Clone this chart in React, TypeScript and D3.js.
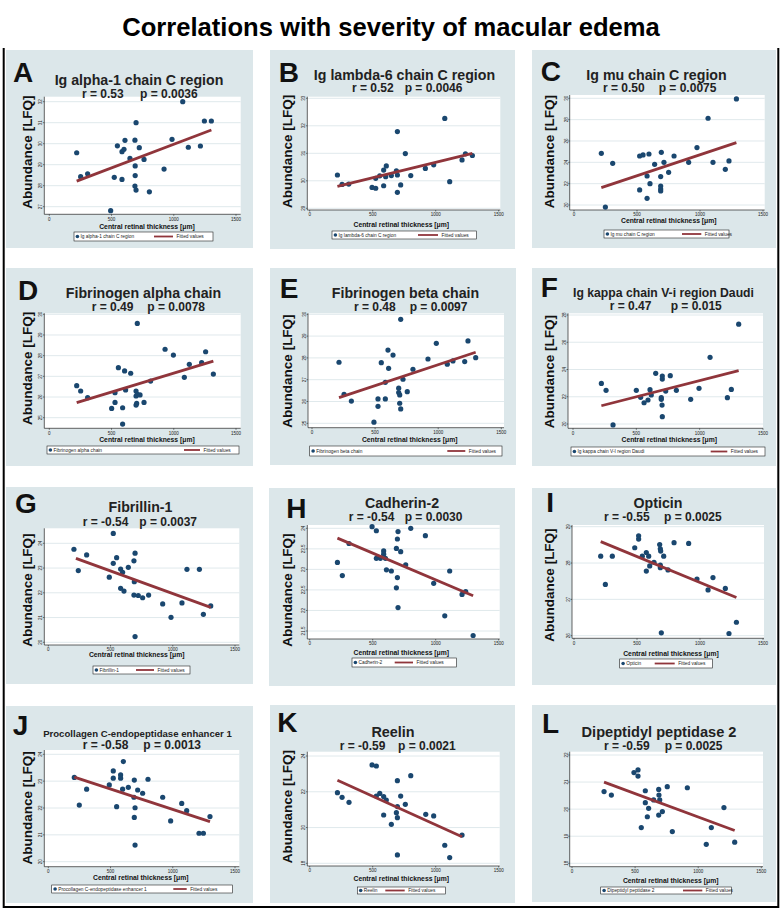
import React from "react";
import * as d3 from "d3";

// central retinal thickness [µm] vs abundance [LFQ], read per panel
const igAlpha1 = [[220, 29.57], [252, 28.43], [308, 28.57], [493, 26.81], [522, 28.4], [547, 29.9], [584, 29.62], [600, 29.73], [584, 28.3], [608, 30.16], [648, 29.3], [688, 30.17], [697, 31.0], [723, 29.81], [690, 28.94], [690, 28.48], [688, 27.98], [697, 27.79], [761, 29.25], [804, 27.71], [922, 28.79], [986, 30.21], [1072, 32.0], [1117, 29.83], [1214, 29.89], [1246, 31.08], [1302, 31.08]];
const igLambda6 = [[220, 30.21], [257, 29.87], [310, 29.88], [495, 29.76], [524, 29.73], [524, 30.09], [556, 30.18], [587, 30.39], [587, 29.82], [603, 30.15], [608, 30.54], [648, 30.19], [688, 30.36], [696, 31.79], [696, 30.21], [696, 29.58], [722, 29.85], [759, 30.99], [802, 30.19], [918, 30.45], [984, 30.58], [1072, 32.27], [1111, 29.97], [1209, 30.76], [1236, 30.98], [1291, 30.92]];
const igMu = [[217, 24.84], [249, 19.81], [307, 23.91], [521, 24.59], [548, 24.69], [595, 24.78], [521, 21.41], [580, 20.63], [580, 22.72], [603, 22.0], [640, 23.81], [693, 24.94], [688, 22.66], [688, 21.78], [688, 21.5], [688, 21.31], [714, 24.0], [751, 23.06], [794, 24.59], [910, 24.0], [976, 25.38], [1064, 28.13], [1103, 24.0], [1201, 23.34], [1230, 24.13], [1289, 29.94]];
const fibAlpha = [[220, 26.55], [252, 26.29], [308, 25.97], [501, 25.45], [528, 25.74], [528, 26.21], [555, 27.42], [589, 25.48], [589, 24.69], [605, 27.26], [613, 26.34], [654, 27.15], [697, 26.29], [697, 26.05], [697, 25.61], [702, 25.69], [707, 29.56], [707, 26.13], [729, 26.1], [761, 25.74], [814, 26.77], [930, 28.31], [997, 28.03], [1085, 26.95], [1125, 27.58], [1224, 27.66], [1256, 28.19], [1318, 27.11]];
const fibBeta = [[214, 27.8], [254, 26.33], [312, 26.02], [491, 25.05], [523, 26.12], [523, 25.78], [549, 27.78], [581, 26.12], [581, 26.88], [602, 28.36], [607, 27.52], [642, 28.13], [687, 26.61], [687, 26.41], [695, 26.3], [695, 25.92], [703, 25.66], [703, 29.77], [721, 27.02], [755, 26.45], [800, 27.48], [919, 27.95], [985, 28.67], [1072, 27.71], [1117, 27.86], [1210, 27.83], [1236, 28.78], [1297, 28.01]];
const igKappa = [[224, 22.98], [261, 22.47], [316, 19.93], [500, 22.47], [534, 21.96], [561, 21.56], [592, 21.76], [608, 22.52], [618, 22.13], [653, 23.72], [697, 21.93], [697, 21.81], [703, 21.39], [705, 20.54], [705, 23.52], [705, 23.3], [732, 22.42], [768, 23.55], [816, 22.47], [929, 21.81], [995, 22.62], [1082, 24.89], [1219, 21.93], [1250, 22.54], [1308, 27.33]];
const fibrillin = [[206, 23.76], [241, 22.9], [308, 23.53], [490, 22.63], [522, 23.19], [522, 24.4], [549, 23.42], [581, 22.96], [581, 22.18], [597, 22.83], [608, 22.07], [643, 23.03], [688, 23.29], [697, 23.6], [691, 22.45], [688, 21.91], [697, 20.23], [723, 21.89], [758, 21.8], [806, 21.91], [919, 21.55], [986, 21.01], [1074, 21.59], [1114, 22.95], [1214, 22.95], [1246, 21.13], [1305, 21.47]];
const cadherin = [[220, 23.17], [259, 22.85], [312, 23.63], [495, 24.04], [529, 23.94], [529, 23.27], [561, 23.27], [587, 23.45], [587, 23.37], [601, 23.27], [609, 22.99], [648, 22.96], [688, 23.51], [696, 23.74], [701, 23.92], [696, 22.8], [688, 22.55], [701, 22.07], [722, 23.43], [762, 23.11], [802, 24.0], [918, 23.82], [984, 22.66], [1072, 21.87], [1111, 22.96], [1209, 22.39], [1238, 22.46], [1297, 21.39]];
const opticin = [[212, 28.19], [249, 27.41], [304, 28.19], [482, 28.42], [513, 28.75], [513, 28.66], [542, 28.19], [574, 28.29], [574, 27.78], [593, 28.19], [601, 27.92], [635, 28.02], [680, 28.51], [685, 28.39], [688, 28.33], [685, 27.94], [685, 27.87], [693, 26.08], [712, 28.19], [746, 27.81], [794, 28.56], [910, 28.54], [976, 27.56], [1064, 27.26], [1103, 27.6], [1201, 27.3], [1230, 26.06], [1289, 26.37]];
const pcolce = [[209, 23.14], [249, 22.11], [308, 22.7], [490, 22.86], [522, 23.38], [522, 23.11], [549, 22.05], [581, 23.23], [581, 23.11], [603, 23.73], [597, 22.7], [643, 22.77], [691, 23.04], [688, 22.4], [697, 22.01], [691, 21.65], [697, 20.62], [718, 22.67], [758, 22.55], [801, 23.07], [919, 22.4], [983, 21.52], [1072, 22.17], [1112, 21.9], [1211, 21.06], [1246, 21.06], [1299, 21.68]];
const reelin = [[220, 21.95], [257, 21.69], [312, 21.41], [495, 23.5], [529, 23.44], [529, 21.76], [556, 21.91], [587, 21.73], [587, 20.7], [608, 21.54], [648, 20.18], [688, 20.83], [696, 22.62], [696, 21.17], [696, 20.55], [696, 18.47], [722, 21.76], [759, 21.3], [802, 22.9], [921, 20.74], [984, 20.65], [1072, 19.01], [1111, 18.32], [1209, 19.58]];
const dpp2 = [[254, 20.65], [312, 20.52], [491, 21.35], [523, 21.45], [523, 21.22], [549, 19.32], [581, 20.68], [581, 20.24], [607, 20.03], [597, 19.72], [647, 20.34], [687, 20.73], [689, 20.52], [695, 20.34], [687, 19.78], [716, 19.91], [755, 20.83], [795, 19.17], [914, 20.79], [1064, 18.7], [1104, 19.32], [1204, 20.06], [1289, 18.78]];

// fitted values (start, end)
const fits = [
  [[220, 28.22], [1302, 30.65]],
  [[220, 29.8], [1291, 31.0]],
  [[217, 21.63], [1289, 25.84]],
  [[220, 25.73], [1318, 27.74]],
  [[214, 26.18], [1297, 28.26]],
  [[224, 21.34], [1308, 23.91]],
  [[222, 23.39], [1305, 21.41]],
  [[220, 23.76], [1297, 22.36]],
  [[212, 28.59], [1289, 27.05]],
  [[209, 23.15], [1299, 21.49]],
  [[220, 22.64], [1209, 19.49]],
  [[254, 21.0], [1289, 19.21]],
];

const letters = ["A", "B", "C", "D", "E", "F", "G", "H", "I", "J", "K", "L"];
const titles = ["Ig alpha-1 chain C region", "Ig lambda-6 chain C region", "Ig mu chain C region", "Fibrinogen alpha chain", "Fibrinogen beta chain", "Ig kappa chain V-i region Daudi", "Fibrillin-1", "Cadherin-2", "Opticin", "Procollagen C-endopeptidase enhancer 1", "Reelin", "Dipeptidyl peptidase 2"];
const legendLabels = ["Ig alpha-1 chain C region", "Ig lambda-6 chain C region", "Ig mu chain C region", "Fibrinogen alpha chain", "Fibrinogen beta chain", "Ig kappa chain V-I region Daudi", "Fibrillin-1", "Cadherin-2", "Opticin", "Procollagen C-endopeptidase enhancer 1", "Reelin", "Dipeptidyl peptidase 2"];
const rValues = ["0.53", "0.52", "0.50", "0.49", "0.48", "0.47", "-0.54", "-0.54", "-0.55", "-0.58", "-0.59", "-0.59"];
const pValues = ["0.0036", "0.0046", "0.0075", "0.0078", "0.0097", "0.015", "0.0037", "0.0030", "0.0025", "0.0013", "0.0021", "0.0025"];
const series = [igAlpha1, igLambda6, igMu, fibAlpha, fibBeta, igKappa, fibrillin, cadherin, opticin, pcolce, reelin, dpp2];

const xTicks = [0, 500, 1000, 1500];
const yTicksList = [
  [27, 28, 29, 30, 31, 32],
  [29, 30, 31, 32, 33],
  [20, 22, 24, 26, 28, 30],
  [25, 26, 27, 28, 29, 30],
  [25, 26, 27, 28, 29, 30],
  [20, 22, 24, 26, 28],
  [20, 21, 22, 23, 24],
  [21.5, 22, 22.5, 23, 23.5, 24],
  [26, 27, 28, 29],
  [20, 21, 22, 23, 24],
  [18, 20, 22, 24],
  [18, 19, 20, 21, 22],
];

// pixel layout of each panel
const layouts = [
  { bg: [6, 50, 253, 248], letter: [13, 81.7], title: [139, 85], ts: 14.2, rx: 82, px: 140, rpY: 98, plot: [44.3, 96.7, 240.7, 214.3], xs: [49.3, 236], ys: [206.7, 101.7], xTitle: [147, 228.8], yTitle: [32.3, 152], legend: [74, 232, 213, 241], seg: [154, 173] },
  { bg: [270, 50, 515, 249], letter: [278.7, 81.7], title: [404.5, 80], ts: 14.2, rx: 352, px: 404.7, rpY: 92.3, plot: [307.3, 96.7, 500.3, 210], xs: [309.7, 498.7], ys: [208.3, 98.3], xTitle: [401.3, 226.7], yTitle: [292, 151.3], legend: [332, 231, 476.3, 239], seg: [418, 438] },
  { bg: [532, 50, 776, 248], letter: [540.7, 81], title: [656.5, 80], ts: 14.2, rx: 603, px: 658.7, rpY: 92.3, plot: [569.7, 95, 764.7, 210], xs: [574, 763], ys: [205, 98.3], xTitle: [668.8, 223], yTitle: [554, 151.7], legend: [604, 230, 729, 238], seg: [682, 701.3] },
  { bg: [6, 268, 253, 466], letter: [18, 300], title: [143.5, 298.3], ts: 14.2, rx: 91.7, px: 147.3, rpY: 311, plot: [44.3, 313.3, 240.7, 428.3], xs: [49.3, 236], ys: [417.7, 314.3], xTitle: [147, 441.5], yTitle: [32.3, 368.3], legend: [47, 446, 239, 454], seg: [184, 200] },
  { bg: [270, 268, 516, 465], letter: [279.7, 298.3], title: [405.5, 298.3], ts: 14.2, rx: 354, px: 409.7, rpY: 310.7, plot: [308, 313.3, 504, 427.7], xs: [312, 501.3], ys: [423.3, 314.3], xTitle: [409.7, 441.7], yTitle: [292, 371], legend: [309.7, 446, 502, 456], seg: [447.3, 465.3] },
  { bg: [532, 268, 776, 466], letter: [540.7, 296.7], title: [663.5, 296.7], ts: 12.2, rx: 609.7, px: 670.7, rpY: 310, plot: [568, 313.3, 763, 428.3], xs: [573, 763], ys: [424, 315], xTitle: [669.3, 442], yTitle: [554, 371.7], legend: [571, 447, 765, 456], seg: [710.7, 727.3] },
  { bg: [6, 487, 253, 684], letter: [15, 513.3], title: [140.5, 512.3], ts: 14.2, rx: 82.7, px: 139.3, rpY: 525.7, plot: [44.3, 528.3, 239.3, 645], xs: [48.3, 235], ys: [642.3, 543.3], xTitle: [136.7, 657], yTitle: [32.3, 590], legend: [93, 666, 190, 674], seg: [136, 154] },
  { bg: [269, 488, 515, 686], letter: [286.3, 518.3], title: [402, 508.3], ts: 14.2, rx: 348.7, px: 404.7, rpY: 521, plot: [307.3, 525, 499.7, 639], xs: [309.7, 498.7], ys: [631, 528.3], xTitle: [401.3, 654.8], yTitle: [292, 590], legend: [352, 658, 456.3, 667], seg: [394.7, 413] },
  { bg: [532, 488, 776, 685], letter: [546.3, 511.7], title: [658, 508.3], ts: 14.2, rx: 604, px: 664, rpY: 521, plot: [572, 525, 764, 638.3], xs: [574, 763], ys: [635.7, 526.7], xTitle: [671, 656.3], yTitle: [554, 585], legend: [619.7, 659, 712.3, 668], seg: [654.7, 674.7] },
  { bg: [6, 706, 253, 903], letter: [12.7, 735], title: [137.5, 736.7], ts: 9.6, rx: 82.7, px: 143.3, rpY: 749.3, plot: [44.3, 750, 239.3, 866.7], xs: [48.3, 235], ys: [861.7, 754.3], xTitle: [140.8, 879.8], yTitle: [32.3, 807.8], legend: [51.7, 885, 232.3, 893], seg: [173.3, 186.7] },
  { bg: [270, 705, 515, 903], letter: [277.3, 731.7], title: [393, 736.7], ts: 14.4, rx: 339.7, px: 398, rpY: 750, plot: [307.3, 751.7, 499.7, 866], xs: [309.7, 498.7], ys: [863.3, 756], xTitle: [401.3, 880.7], yTitle: [292, 806.7], legend: [357.3, 887, 445.3, 894], seg: [385.3, 404.7] },
  { bg: [532, 705, 776, 902], letter: [542, 733.3], title: [659, 736.7], ts: 14.6, rx: 604, px: 664.7, rpY: 750, plot: [569.7, 751.7, 763, 866.7], xs: [572, 761.3], ys: [863.3, 755], xTitle: [670.7, 882.7], yTitle: null, legend: [600.7, 887, 731.3, 894], seg: [683, 702.3] },
];

const FONT = "'Liberation Sans', Arial, Helvetica, sans-serif";
const PANEL_BG = "#dce7ea";
const GRID = "#dce7ea";
const NAVY = "#1a476f";
const MAROON = "#90353b";

function Panel({ i }: { i: number }) {
  const L = layouts[i];
  const data = series[i];
  const ticks = yTicksList[i];
  const [pl, pt, pr, pb] = L.plot;

  const x = d3.scaleLinear().domain([0, 1500]).range(L.xs);
  const y = d3.scaleLinear().domain([ticks[0], ticks[ticks.length - 1]]).range(L.ys);
  const line = d3.line<number[]>().x(d => x(d[0])).y(d => y(d[1]));

  const [ll, lt, lr, lb] = L.legend;
  const lmid = (lt + lb) / 2;

  return (
    <g>
      <rect x={L.bg[0]} y={L.bg[1]} width={L.bg[2] - L.bg[0]} height={L.bg[3] - L.bg[1]} fill={PANEL_BG} />
      <rect x={pl} y={pt} width={pr - pl} height={pb - pt} fill="#fff" />
      {ticks.map(t => (
        <line key={"g" + t} x1={pl} x2={pr} y1={y(t)} y2={y(t)} stroke={GRID} strokeWidth={0.9} />
      ))}
      {/* axes */}
      <line x1={pl} x2={pl} y1={pt} y2={pb} stroke="#222" strokeWidth={0.7} />
      <line x1={pl} x2={pr} y1={pb} y2={pb} stroke="#222" strokeWidth={0.7} />
      {ticks.map(t => (
        <g key={"yt" + t}>
          <line x1={pl - 1.5} x2={pl} y1={y(t)} y2={y(t)} stroke="#222" strokeWidth={0.6} />
          <text transform={`translate(${pl - 2},${y(t)}) rotate(-90)`} textAnchor="middle" fontSize={4.5} fontFamily={FONT} fill="#222">{t}</text>
        </g>
      ))}
      {xTicks.map(t => (
        <g key={"xt" + t}>
          <line x1={x(t)} x2={x(t)} y1={pb} y2={pb + 1.5} stroke="#222" strokeWidth={0.6} />
          <text x={x(t)} y={pb + 6.3} textAnchor="middle" fontSize={4.5} fontFamily={FONT} fill="#222">{t}</text>
        </g>
      ))}
      <text x={L.xTitle[0]} y={L.xTitle[1]} textAnchor="middle" fontSize={6.8} fontWeight="bold" fontFamily={FONT} fill="#111">Central retinal thickness [μm]</text>
      {L.yTitle && (
        <text transform={`translate(${L.yTitle[0]},${L.yTitle[1]}) rotate(-90)`} textAnchor="middle" fontSize={13.5} fontWeight="bold" fontFamily={FONT} fill="#111">Abundance [LFQ]</text>
      )}
      {/* marks */}
      {data.map((d, k) => (
        <circle key={k} cx={x(d[0])} cy={y(d[1])} r={2.6} fill={NAVY} />
      ))}
      <path d={line(fits[i]) || ""} stroke={MAROON} strokeWidth={2.8} fill="none" />
      {/* headings */}
      <text x={L.letter[0]} y={L.letter[1]} fontSize={28} fontWeight="bold" fontFamily={FONT} fill="#111">{letters[i]}</text>
      <text x={L.title[0]} y={L.title[1]} textAnchor="middle" fontSize={L.ts} fontWeight="bold" fontFamily={FONT} fill="#222">{titles[i]}</text>
      <text x={L.rx} y={L.rpY} fontSize={12} fontWeight="bold" fontFamily={FONT} fill="#222">{`r = ${rValues[i]}`}</text>
      <text x={L.px} y={L.rpY} fontSize={12} fontWeight="bold" fontFamily={FONT} fill="#222">{`p = ${pValues[i]}`}</text>
      {/* legend */}
      <rect x={ll} y={lt} width={lr - ll} height={lb - lt} fill="#fff" stroke="#222" strokeWidth={0.6} />
      <circle cx={ll + 3.4} cy={lmid} r={1.8} fill={NAVY} />
      <text x={ll + 6.5} y={lmid + 1.7} fontSize={4.8} fontFamily={FONT} fill="#222">{legendLabels[i]}</text>
      <line x1={L.seg[0]} x2={L.seg[1]} y1={lmid} y2={lmid} stroke={MAROON} strokeWidth={1.8} />
      <text x={L.seg[1] + 3.5} y={lmid + 1.7} fontSize={4.8} fontFamily={FONT} fill="#222">Fitted values</text>
    </g>
  );
}

export default function App() {
  return (
    <svg width={781} height={909} style={{ position: "absolute", left: 0, top: 0, background: "#fff" }}>
      <rect width={781} height={909} fill="#fff" />
      <text x={391} y={36} textAnchor="middle" fontSize={25.6} fontWeight="bold" fontFamily={FONT} fill="#000">Correlations with severity of macular edema</text>
      {layouts.map((_, i) => <Panel key={i} i={i} />)}
      <path d="M3.7,48 V907 H778.3 V48" fill="none" stroke="#000" strokeWidth={2} />
    </svg>
  );
}
